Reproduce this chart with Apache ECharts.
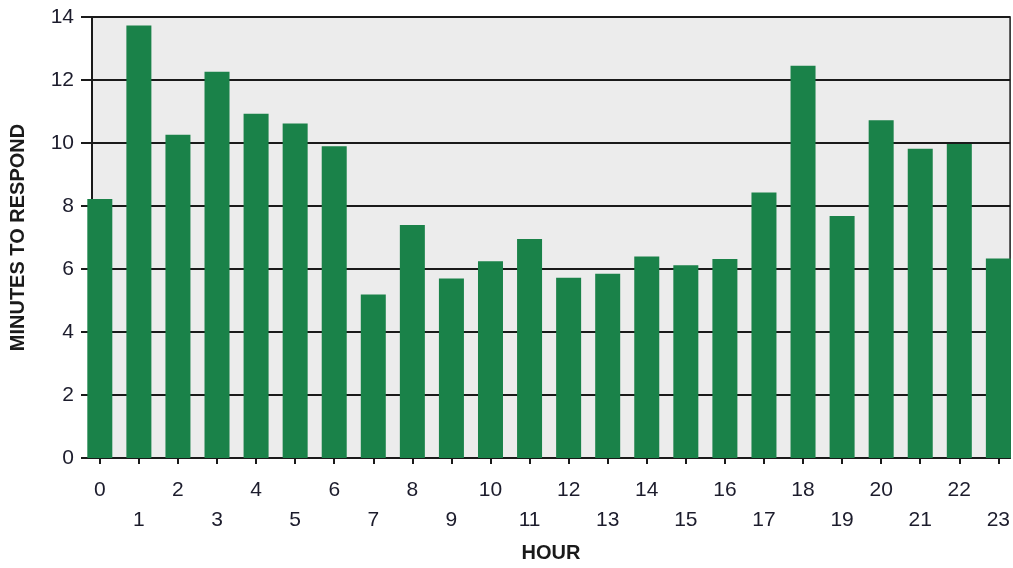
<!DOCTYPE html>
<html>
<head>
<meta charset="utf-8">
<script src="https://cdn.jsdelivr.net/npm/echarts@6/dist/echarts.min.js"></script>
<style>
html,body{margin:0;padding:0;background:#fff;}
#chart{width:1013px;height:568px;}
</style>
</head>
<body>
<div id="chart"></div>
<script>
const hours = [0,1,2,3,4,5,6,7,8,9,10,11,12,13,14,15,16,17,18,19,20,21,22,23];
const minutes = [8.22,13.73,10.26,12.26,10.93,10.62,9.9,5.19,7.4,5.7,6.25,6.95,5.72,5.85,6.4,6.12,6.32,8.43,12.45,7.68,10.72,9.82,9.97,6.33];
const yTicks = [0,2,4,6,8,10,12,14];

const chart = echarts.init(document.getElementById('chart'), null, {renderer:'canvas'});
const font = 'Liberation Sans, Arial, sans-serif';
chart.setOption({
  animation:false,
  backgroundColor:'#ffffff',
  grid:{left:88,right:2,top:17,bottom:106,show:true,backgroundColor:'#ececec',borderColor:'#1a1a1a',borderWidth:1.5},
  xAxis:{
    type:'value', min:-0.2, max:23.3,
    name:'HOUR', nameLocation:'middle', nameGap:85,
    nameTextStyle:{fontFamily:font,fontWeight:'bold',fontSize:20,color:'#1a1a1a'},
    axisLine:{show:true,onZero:false,lineStyle:{color:'#1a1a1a',width:2}},
    axisTick:{show:true,customValues:hours,length:6,lineStyle:{color:'#1a1a1a',width:2}},
    axisLabel:{customValues:hours,fontFamily:font,fontSize:21,color:'#1c1c2c',margin:17,lineHeight:30,
      formatter:function(v){return (v%2===1)?('\n'+v):String(v);}},
    splitLine:{show:false}
  },
  yAxis:{
    type:'value', min:0, max:14, interval:2,
    name:'MINUTES TO RESPOND', nameLocation:'middle', nameGap:64,
    nameTextStyle:{fontFamily:font,fontWeight:'bold',fontSize:20,color:'#1a1a1a'},
    axisLine:{show:true,onZero:false,lineStyle:{color:'#1a1a1a',width:2}},
    axisTick:{show:true,length:11,lineStyle:{color:'#1a1a1a',width:2}},
    axisLabel:{fontFamily:font,fontSize:21,color:'#1c1c2c',margin:18,
      formatter:function(v){return yTicks.indexOf(v)>=0?String(v):'';}},
    splitLine:{show:true,lineStyle:{color:'#1a1a1a',width:2}}
  },
  series:[{
    type:'bar',
    data:hours.map((h,i)=>[h,minutes[i]]),
    barWidth:25,
    clip:true,
    itemStyle:{color:'#1a8249'}
  }]
});
</script>
</body>
</html>
